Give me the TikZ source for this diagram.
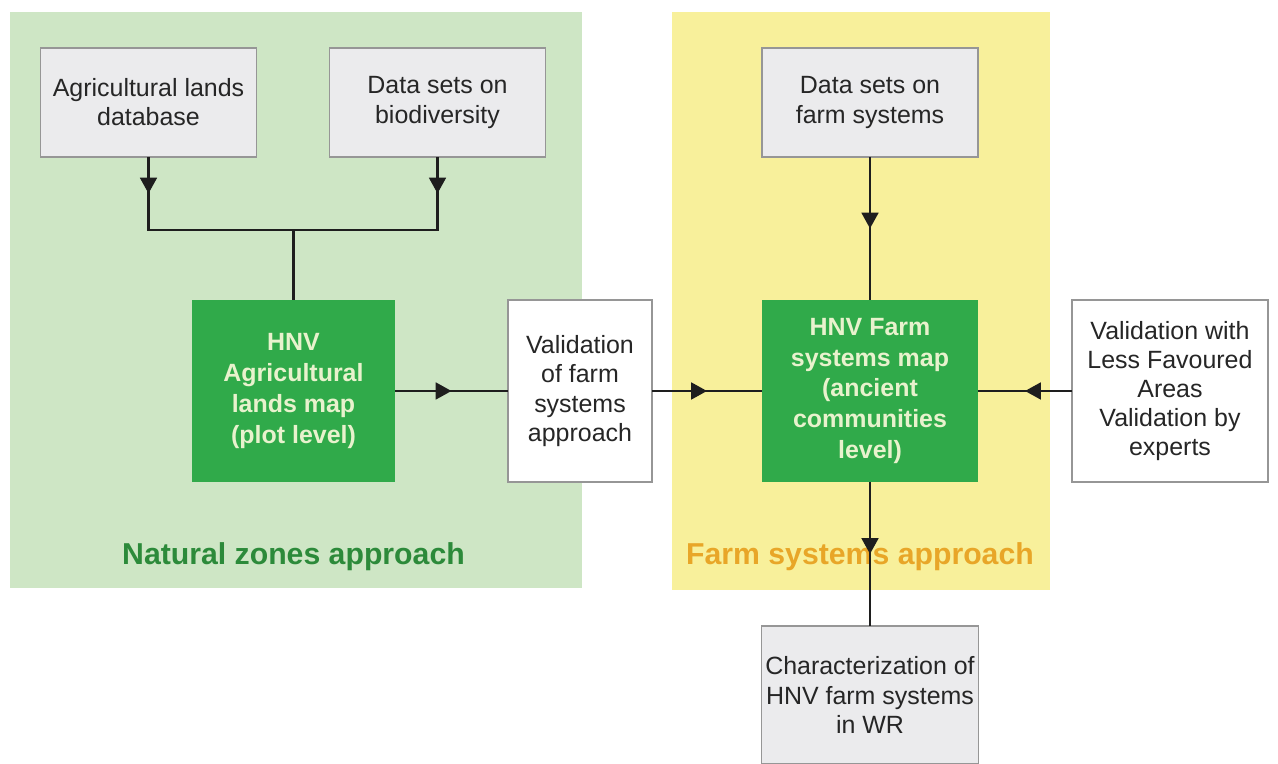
\documentclass[tikz,border=0pt]{standalone}
\usepackage{fontspec}
\setmainfont{Liberation Sans}
\usetikzlibrary{arrows.meta,positioning,decorations.markings}

\definecolor{zonegreen}{RGB}{206,230,197}
\definecolor{zoneyellow}{RGB}{248,240,155}
\definecolor{mapgreen}{RGB}{48,170,74}
\definecolor{maptext}{RGB}{232,242,205}
\definecolor{srcgray}{RGB}{235,235,237}
\definecolor{edgegray}{RGB}{150,150,150}
\definecolor{lblgreen}{RGB}{44,138,58}
\definecolor{lblorange}{RGB}{232,166,40}
\definecolor{linegray}{RGB}{30,30,30}

\begin{document}
\begin{tikzpicture}[
  box/.style={rectangle, align=center, inner sep=2pt, outer sep=0pt,
    text=black!85, font=\fontsize{14.2}{16.6}\selectfont},
  srcbox/.style={box, draw=edgegray, line width=0.8pt, fill=srcgray,
    minimum width=4.32cm, minimum height=2.18cm},
  mapbox/.style={box, fill=mapgreen, text=maptext, minimum height=3.64cm,
    font=\fontsize{14.2}{17.5}\selectfont\bfseries},
  valbox/.style={box, draw=edgegray, line width=0.8pt, fill=white,
    minimum height=3.64cm},
  zonelbl/.style={font=\fontsize{17.2}{20}\selectfont\bfseries},
  link/.style={color=linegray, line width=1.5pt},
  midarr/.style={postaction={decorate}, decoration={markings,
    mark=at position #1 with {\arrow{Triangle[length=9pt,width=9.5pt]}}}},
  midarr/.default=0.5]
  \useasboundingbox (0,0) rectangle (25.56,15.28);

  % the two approaches
  \fill[zonegreen] (0.2,3.52) rectangle (11.64,15.04);
  \fill[zoneyellow] (13.44,3.48) rectangle (21.0,15.04);
  \node[zonelbl, text=lblgreen] (natlbl) at (5.87,4.14) {Natural zones approach};
  \node[zonelbl, text=lblorange] (farmlbl) at (17.2,4.14) {Farm systems approach};

  % boxes
  \node[srcbox] (agri) at (2.97,13.23) {Agricultural lands\\database};
  \node[srcbox, right=1.46cm of agri] (bio) {Data sets on\\biodiversity};
  \node[mapbox, minimum width=4.06cm] (hnvag) at (5.87,7.46)
    {HNV\\Agricultural\\lands map\\(plot level)};
  \node[valbox, minimum width=2.88cm, right=2.26cm of hnvag] (valid)
    {Validation\\of farm\\systems\\approach};
  \node[mapbox, minimum width=4.32cm, right=2.2cm of valid] (hnvfarm)
    {HNV Farm\\systems map\\(ancient\\communities\\level)};
  \node[valbox, minimum width=3.92cm, right=1.88cm of hnvfarm] (lfa)
    {Validation with\\Less Favoured\\Areas\\Validation by\\experts};
  \node[srcbox, above=2.86cm of hnvfarm] (farmdata) {Data sets on\\farm systems};
  \node[srcbox, minimum height=2.76cm, below=2.88cm of hnvfarm] (charac)
    {Characterization of\\HNV farm systems\\in WR};

  % connectors
  \coordinate (jn) at (5.87,10.68);
  \draw[link, midarr] (agri) -- (agri |- jn);
  \draw[link, midarr] (bio) -- (bio |- jn);
  \draw[link, line cap=rect] (agri |- jn) -- (bio |- jn);
  \draw[link] (jn) -- (hnvag);
  \draw[link, midarr] (hnvag) -- (valid);
  \draw[link, midarr] (valid) -- (hnvfarm);
  \draw[link, midarr] (lfa) -- (hnvfarm);
  \draw[link, midarr] (farmdata) -- (hnvfarm);
  \draw[link, midarr] (hnvfarm) -- (charac);
\end{tikzpicture}
\end{document}
